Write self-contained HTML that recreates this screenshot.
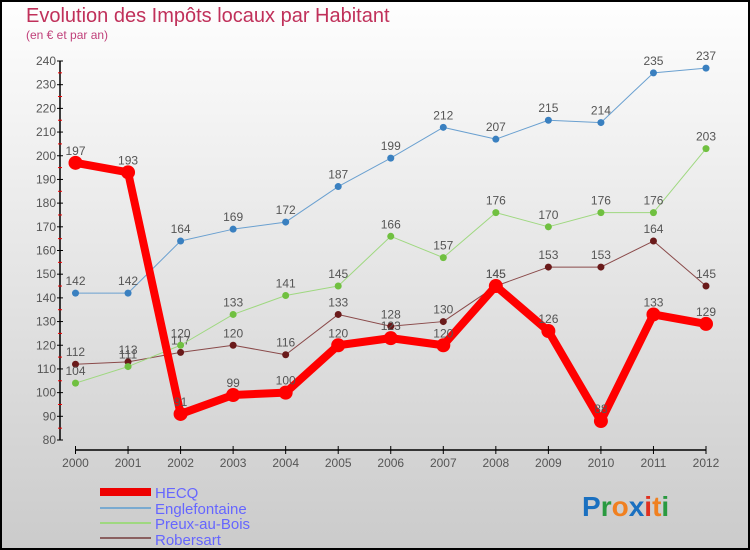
<!DOCTYPE html>
<html><head><meta charset="utf-8"><style>
body{margin:0}
#c{width:750px;height:550px;position:relative;overflow:hidden}
svg{position:absolute;left:0;top:0}
text{font-family:"Liberation Sans",sans-serif}
</style></head><body>
<div id="c">
<svg id="s" width="750" height="550" xmlns="http://www.w3.org/2000/svg">
<defs><linearGradient id="bg" x1="0" y1="0" x2="0" y2="1"><stop offset="0" stop-color="#fefefe"/><stop offset="1" stop-color="#cbcbcb"/></linearGradient></defs>
<rect x="1" y="1" width="748" height="548" fill="url(#bg)" stroke="#000" stroke-width="2"/>
<text x="26" y="22" font-size="20" fill="#c0305a">Evolution des Impôts locaux par Habitant</text>
<text x="26" y="39" font-size="12" fill="#c0407a">(en € et par an)</text>
<g id="axes"></g><g id="series"></g>
<g>
<rect x="100" y="488" width="51" height="8" fill="#e00"/>
<text x="155" y="498" font-size="15" fill="#66f">HECQ</text>
<line x1="100" y1="508" x2="151" y2="508" stroke="#7aaad0" stroke-width="2"/>
<text x="155" y="514" font-size="15" fill="#66f">Englefontaine</text>
<line x1="100" y1="523" x2="151" y2="523" stroke="#9fd880" stroke-width="2"/>
<text x="155" y="529" font-size="15" fill="#66f">Preux-au-Bois</text>
<line x1="100" y1="538" x2="151" y2="538" stroke="#8a6060" stroke-width="2"/>
<text x="155" y="545" font-size="15" fill="#66f">Robersart</text>
</g>
<g font-size="28" font-weight="bold">
<text x="582" y="516"><tspan fill="#1a70c0">P</tspan><tspan fill="#2a9a40">r</tspan><tspan fill="#f08020">o</tspan><tspan fill="#1a70c0">x</tspan><tspan fill="#e03020">i</tspan><tspan fill="#f08020">t</tspan><tspan fill="#2a9a40">i</tspan></text>
</g>
</svg></div>
<script>
const years=["2000","2001","2002","2003","2004","2005","2006","2007","2008","2009","2010","2011","2012"];
const yTicks=[80,90,100,110,120,130,140,150,160,170,180,190,200,210,220,230,240];
const heco=[197,193,91,99,100,120,123,120,145,126,88,133,129];
const englefontaine=[142,142,164,169,172,187,199,212,207,215,214,235,237];
const preux=[104,111,120,133,141,145,166,157,176,170,176,176,203];
const robersart=[112,113,117,120,116,133,128,130,145,153,153,164,145];
const NS="http://www.w3.org/2000/svg";
const X=i=>75.5+i*(706-75.5)/12;
const Y=v=>440-(v-80)*(379/160);
function mk(t,a,p){const e=document.createElementNS(NS,t);for(const k in a)e.setAttribute(k,a[k]);p.appendChild(e);return e;}
const ax=document.getElementById('axes');
const yl=mk('line',{x1:60,y1:Y(240),x2:60,y2:Y(80),stroke:'#000','stroke-width':1.5},ax);


yTicks.forEach(v=>{
 mk('line',{x1:57,y1:Y(v),x2:63,y2:Y(v),stroke:'#000'},ax);
 if(v<240)mk('line',{x1:58,y1:Y(v+5),x2:62,y2:Y(v+5),stroke:'#e00'},ax);
 const t=mk('text',{x:56,y:Y(v)+4,'text-anchor':'end','font-size':12,fill:'#555'},ax);t.textContent=v;
 
 
});
const xl=mk('line',{x1:X(0),y1:450,x2:X(12),y2:450,stroke:'#000','stroke-width':1.5},ax);


years.forEach((y,i)=>{
 mk('line',{x1:X(i),y1:446,x2:X(i),y2:454,stroke:'#000'},ax);
 const t=mk('text',{x:X(i),y:467,'text-anchor':'middle','font-size':12,fill:'#555'},ax);t.textContent=y;
 
 
});
const sg=document.getElementById('series');
function series(d,name,col,dot,w,r){
 const g=mk('g',{},sg);
 
 
 mk('polyline',{points:d.map((v,i)=>X(i)+','+Y(v)).join(' '),fill:'none',stroke:col,'stroke-width':w,'stroke-linejoin':'round'},g);
 d.forEach((v,i)=>{
  const c=mk('circle',{cx:X(i),cy:Y(v),r:r,fill:dot},g);
  
  
  const t=mk('text',{x:X(i),y:Y(v)-8,'text-anchor':'middle','font-size':12,fill:'#555'},g);t.textContent=v;
 });
}
series(robersart,'robersart','#8a4a4a','#6a1a1a',1,3.5);
series(preux,'preux','#9fd880','#70c040',1,3.5);
series(englefontaine,'englefontaine','#6aa0d0','#3a80c0',1,3.5);
series(heco,'heco','#f00','#f00',8,7);
</script>
</body></html>
